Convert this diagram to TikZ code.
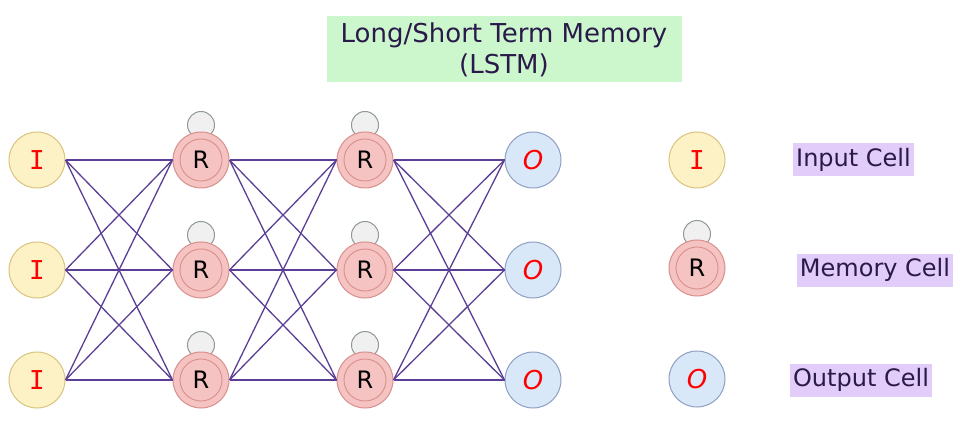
\documentclass[tikz,border=0pt]{standalone}
\usepackage{fontspec}
\setmainfont{DejaVu Sans}
\newfontfamily\monof{DejaVu Sans Mono}
\definecolor{edgec}{HTML}{5B3F96}
\definecolor{ifill}{HTML}{FDF1C6}
\definecolor{iborder}{HTML}{D8C47E}
\definecolor{rfill}{HTML}{F5C3C1}
\definecolor{rborder}{HTML}{D98F8C}
\definecolor{ofill}{HTML}{D9E8F8}
\definecolor{oborder}{HTML}{8E9FC2}
\definecolor{lfill}{HTML}{F0F0F0}
\definecolor{lborder}{HTML}{8F9A95}
\definecolor{tfill}{HTML}{CCF7CC}
\definecolor{labfill}{HTML}{E2CCF9}
\definecolor{txt}{HTML}{2A1A4A}
\begin{document}
\begin{tikzpicture}[x=1pt,y=-1pt,
  inode/.style={circle,draw=iborder,fill=ifill,line width=1pt,minimum size=56pt,inner sep=0pt,
    font=\monof\fontsize{26}{26}\selectfont,text=red},
  rnode/.style={circle,draw=rborder,fill=rfill,line width=1pt,minimum size=56pt,inner sep=0pt,
    font=\fontsize{24}{24}\selectfont,text=black,
    path picture={\draw[rborder,line width=0.9pt] (path picture bounding box.center) circle (21pt);}},
  onode/.style={circle,draw=oborder,fill=ofill,line width=1pt,minimum size=56pt,inner sep=0pt,
    font=\itshape\fontsize{26}{26}\selectfont,text=red},
  loopc/.style={circle,draw=lborder,fill=lfill,line width=1pt,minimum size=27pt,inner sep=0pt},
  edge/.style={draw=edgec,line width=1.3pt},
  labbox/.style={fill=labfill,inner xsep=3pt,inner ysep=0pt,minimum height=33pt,
    font=\fontsize{24}{24}\selectfont,text=txt},
]
\useasboundingbox (0,0) rectangle (968,438);
% title
\node[fill=tfill,minimum width=355pt,minimum height=66pt,inner sep=0pt,align=center,
  font=\fontsize{26}{31}\selectfont,text=txt] (title) at (504,49.5) {Long/Short Term Memory\\(LSTM)};
% network nodes
\foreach \r/\y in {1/160,2/270,3/380}{
  \node[inode] (i\r) at (37,\y) {I};
  \node[loopc] (la\r) at (201,\y-35) {};
  \node[rnode] (a\r) at (201,\y) {R};
  \node[loopc] (lb\r) at (365,\y-35) {};
  \node[rnode] (b\r) at (365,\y) {R};
  \node[onode] (o\r) at (533,\y) {O};
}
% edges
\foreach \s in {1,2,3}{
  \foreach \t in {1,2,3}{
    \draw[edge] (i\s.east) -- (a\t.west);
    \draw[edge] (a\s.east) -- (b\t.west);
    \draw[edge] (b\s.east) -- (o\t.west);
  }
}
% legend
\node[inode] (li) at (697,160) {I};
\node[loopc] (ll) at (697,234) {};
\node[rnode] (lr) at (697,268) {R};
\node[onode] (lo) at (697,379) {O};
\node[labbox] (tin) at (853.5,160) {Input Cell};
\node[labbox] (tmem) at (875,270) {Memory Cell};
\node[labbox] (tout) at (861,380) {Output Cell};
\end{tikzpicture}
\end{document}
